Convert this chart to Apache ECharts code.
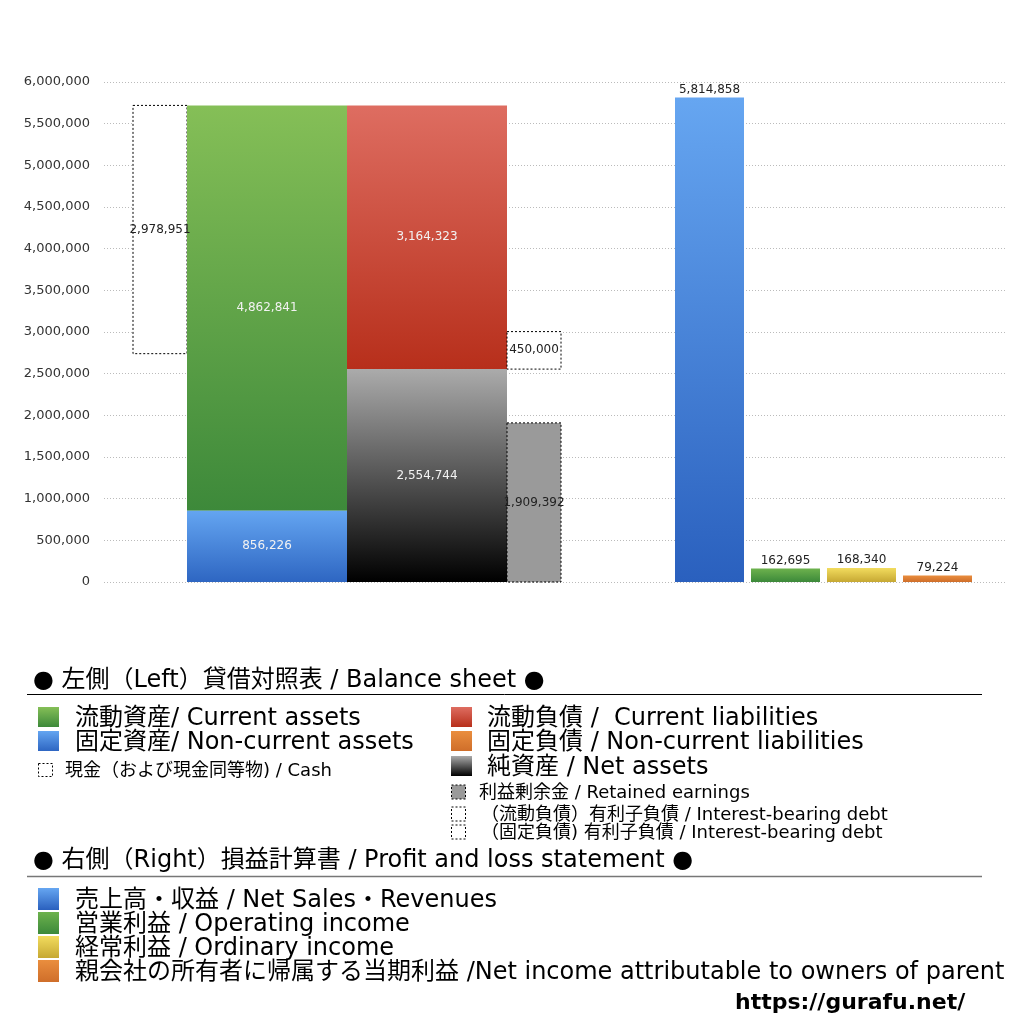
<!DOCTYPE html>
<html>
<head>
<meta charset="utf-8">
<script src="https://cdn.jsdelivr.net/npm/echarts@6/dist/echarts.min.js"></script>
<style>
html, body { margin: 0; padding: 0; background: #fff; }
#main { width: 1024px; height: 1024px; }
</style>
</head>
<body>
<div id="main"></div>
<script>
// 貸借対照表 (left side)
const bsNames = ['現金', '流動資産', '固定資産', '流動負債', '純資産', '有利子負債', '利益剰余金'];
const bsValues = [2978951, 4862841, 856226, 3164323, 2554744, 450000, 1909392];
// 損益計算書 (right side)
const plNames = ['売上高・収益', '営業利益', '経常利益', '当期利益'];
const plValues = [5814858, 162695, 168340, 79224];
// y axis ticks
const yMin = 0;
const yMax = 6000000;
const yStep = 500000;

// legend texts
const bsLegendMain = [
  '流動資産/ Current assets',
  '固定資産/ Non-current assets'
];
const bsLegendRight = [
  '流動負債 /  Current liabilities',
  '固定負債 / Non-current liabilities',
  '純資産 / Net assets'
];
const bsLegendSmall = [
  '利益剰余金 / Retained earnings',
  '（流動負債）有利子負債 / Interest-bearing debt',
  '（固定負債) 有利子負債 / Interest-bearing debt'
];
const plLegend = [
  '売上高・収益 / Net Sales・Revenues',
  '営業利益 / Operating income',
  '経常利益 / Ordinary income',
  '親会社の所有者に帰属する当期利益 /Net income attributable to owners of parent'
];

const FONT = '"DejaVu Sans", "Noto Sans CJK JP", sans-serif';
const fmt = v => Math.round(v).toLocaleString('en-US');
const grad = (top, bottom) => new echarts.graphic.LinearGradient(0, 0, 0, 1, [
  { offset: 0, color: top }, { offset: 1, color: bottom }
]);

// colours
const cGreen = grad('#85bf57', '#3d893a');
const cBlue = grad('#64a5f1', '#2e66c2');
const cRed = grad('#de6d61', '#b72f1b');
const cBlack = grad('#ababab', '#000000');
const cOrange = grad('#ea8e3e', '#cf6e2a');
const cYellow = grad('#f2dc5e', '#c6a833');
const cGreenPL = grad('#6db24d', '#3c893a');
const cBluePL = grad('#66a6f1', '#2a60be');

// horizontal slots (x axis runs 0..901, hidden)
const slots = {
  cash: [29, 83],
  left: [83, 243],
  right: [243, 403],
  side: [403, 457],
  pl: [[571, 640], [647, 716], [723, 792], [799, 868]]
};

// stacked extents of the balance sheet
const totalAssets = bsValues[1] + bsValues[2];
const bsBoxes = [
  [slots.cash, totalAssets - bsValues[0], totalAssets],
  [slots.left, bsValues[2], bsValues[2] + bsValues[1]],
  [slots.left, 0, bsValues[2]],
  [slots.right, bsValues[4], bsValues[4] + bsValues[3]],
  [slots.right, 0, bsValues[4]],
  [slots.side, bsValues[4], bsValues[4] + bsValues[5]],
  [slots.side, 0, bsValues[6]]
];
const dashed = { fill: '#fff', stroke: '#000', lineWidth: 1, lineDash: [2, 2] };
const bsStyles = [
  { style: dashed, label: '#222', pos: 'inside' },
  { style: { fill: cGreen }, label: '#f2f2f2', pos: 'inside' },
  { style: { fill: cBlue }, label: '#f2f2f2', pos: 'inside' },
  { style: { fill: cRed }, label: '#f2f2f2', pos: 'inside' },
  { style: { fill: cBlack }, label: '#f2f2f2', pos: 'inside' },
  { style: dashed, label: '#222', pos: 'inside' },
  { style: { fill: '#9a9a9a', stroke: '#000', lineWidth: 1, lineDash: [2, 2] }, label: '#222', pos: 'inside' }
];
const plStyles = [cBluePL, cGreenPL, cYellow, cOrange];

const bsData = bsBoxes.map((b, i) => ({ name: bsNames[i], value: [b[0][0], b[0][1], b[1], b[2], bsValues[i]] }));
const plData = plValues.map((v, i) => ({ name: plNames[i], value: [slots.pl[i][0], slots.pl[i][1], 0, v, v] }));

function makeRender(getStyle) {
  return function (params, api) {
    const lt = api.coord([api.value(0), api.value(3)]);
    const rb = api.coord([api.value(1), api.value(2)]);
    const s = getStyle(params.dataIndex);
    return {
      type: 'rect',
      shape: { x: lt[0], y: lt[1], width: rb[0] - lt[0], height: rb[1] - lt[1] },
      style: s.style,
      textContent: {
        style: { text: fmt(api.value(4)), fill: s.label, fontSize: 12, fontFamily: FONT }
      },
      textConfig: { position: s.pos, distance: 2 }
    };
  };
}

// legend graphics
const graphics = [];
function txt(x, y, text, size, font) {
  graphics.push({
    type: 'text',
    style: {
      text: text, x: x, y: y + 2, verticalAlign: 'middle', align: 'left',
      font: font || (size + 'px ' + FONT), fill: '#000'
    }
  });
}
function icon(x, y, w, h, style) {
  graphics.push({ type: 'rect', shape: { x: x, y: y, width: w, height: h }, style: style });
}
function hline(y, color, width) {
  graphics.push({ type: 'line', shape: { x1: 27, y1: y, x2: 982, y2: y }, style: { stroke: color, lineWidth: width } });
}

txt(33, 679, '● 左側（Left）貸借対照表 / Balance sheet ●', 24);
hline(694.5, '#000', 1);
const mainRowsY = [717, 741];
[cGreen, cBlue].forEach((c, i) => {
  icon(38, mainRowsY[i] - 10, 21, 20, { fill: c });
  txt(75, mainRowsY[i], bsLegendMain[i], 24);
});
icon(38.5, 763.5, 14, 13, { fill: '#fff', stroke: '#000', lineWidth: 1, lineDash: [2, 2] });
txt(65, 769, '現金（および現金同等物) / Cash', 18);
const rightRowsY = [717, 741, 766];
[cRed, cOrange, cBlack].forEach((c, i) => {
  icon(451, rightRowsY[i] - 10, 21, 20, { fill: c });
  txt(487, rightRowsY[i], bsLegendRight[i], 24);
});
const smallRowsY = [792, 814, 832];
smallRowsY.forEach((y, i) => {
  icon(451.5, y - 7, 14, 14, { fill: i === 0 ? '#9a9a9a' : '#fff', stroke: '#000', lineWidth: 1, lineDash: [2, 2] });
  txt(i === 0 ? 479 : 481, y - 1, bsLegendSmall[i], 18);
});

txt(33, 859, '● 右側（Right）損益計算書 / Profit and loss statement ●', 24);
hline(876.5, '#777', 1.5);
const plRowsY = [899, 923, 947, 971];
[cBluePL, cGreenPL, cYellow, cOrange].forEach((c, i) => {
  icon(38, plRowsY[i] - 11, 21, 22, { fill: c });
  txt(75, plRowsY[i], plLegend[i], 24);
});
txt(735, 1001, 'https://gurafu.net/', 22, 'bold 22px "DejaVu Sans", sans-serif');

const chart = echarts.init(document.getElementById('main'));
chart.setOption({
  animation: false,
  backgroundColor: '#fff',
  grid: { left: 104, right: 19, top: 82, bottom: 442 },
  xAxis: { type: 'value', min: 0, max: 901, show: false },
  yAxis: {
    type: 'value', min: yMin, max: yMax, interval: yStep,
    axisLine: { show: false }, axisTick: { show: false },
    axisLabel: { formatter: v => fmt(v), color: '#333', fontSize: 13, fontFamily: FONT, margin: 14 },
    splitLine: { lineStyle: { type: [1, 2], color: '#bbb', width: 1 } }
  },
  series: [
    {
      type: 'custom', name: '貸借対照表', data: bsData,
      renderItem: makeRender(i => bsStyles[i])
    },
    {
      type: 'custom', name: '損益計算書', data: plData,
      renderItem: makeRender(i => ({ style: { fill: plStyles[i] }, label: '#222', pos: 'top' }))
    }
  ],
  graphic: graphics
});
</script>
</body>
</html>
